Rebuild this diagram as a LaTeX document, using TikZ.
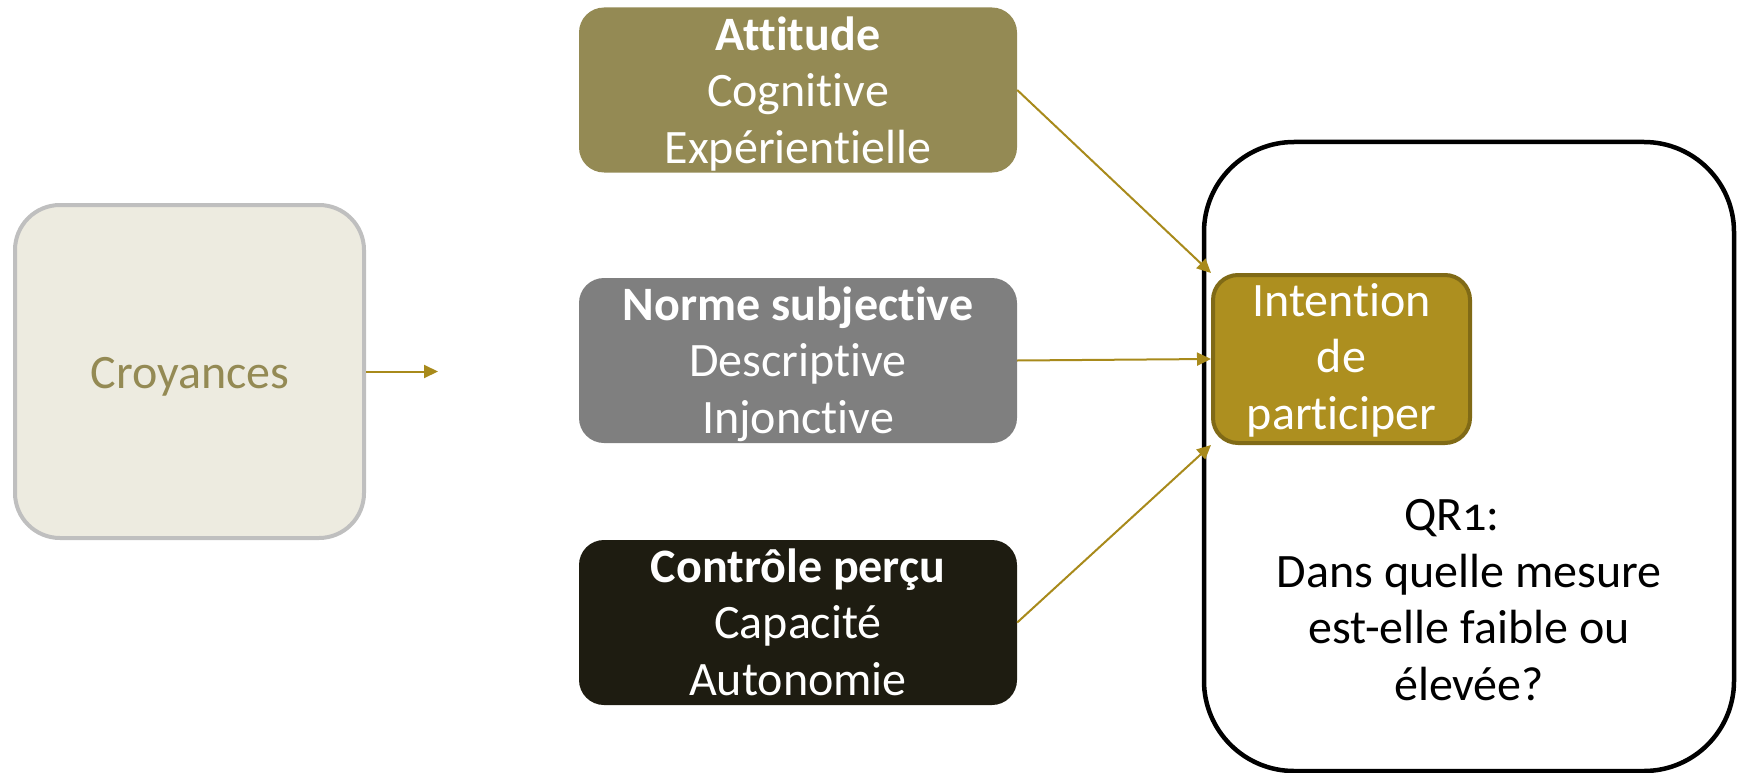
\documentclass[tikz,border=0pt]{standalone}
\usepackage{fontspec}
\setmainfont{Carlito}[Ligatures=NoCommon]
\usetikzlibrary{arrows.meta}
\definecolor{croyfill}{HTML}{EDEBE0}
\definecolor{croyline}{HTML}{BFBFBF}
\definecolor{olive}{HTML}{948A54}
\definecolor{normgray}{HTML}{7F7F7F}
\definecolor{ctrldark}{HTML}{1E1C11}
\definecolor{gold}{HTML}{AD8F1F}
\definecolor{golddark}{HTML}{806A16}
\definecolor{arrowgold}{HTML}{A88A1B}
\begin{document}
\begin{tikzpicture}[x=1pt,y=-1pt,
  fnt/.style={font=\fontsize{48}{56.5}\selectfont},
  colbox/.style={rectangle, rounded corners=25pt, draw=none, minimum width=438pt, minimum height=165pt, inner sep=0pt},
  boxtext/.style={fnt, text=white, align=center, inner sep=0pt, anchor=north},
  conn/.style={draw=arrowgold, line width=2pt, -{Triangle[length=14pt,width=13pt]}}
]
\useasboundingbox (0,0) rectangle (1740,773);
% Croyances
\node[rectangle, rounded corners=45pt, draw=croyline, line width=4pt, fill=croyfill,
      minimum width=349pt, minimum height=333pt, inner sep=0pt] (croy) at (189.5,371.5) {};
\node[fnt, text=olive, anchor=base, inner sep=0pt] (croyT) at (190,388) {Croyances};
\coordinate (croyEnd) at (438,371.5);
\draw[conn] (croy.east) -- (croyEnd);
% three boxes
\node[colbox, fill=olive] (att) at (798,90) {};
\node[boxtext] (attT) at ([yshift=-3pt]att.north) {\rule{0pt}{40pt}\textbf{Attitude}\\Cognitive\\Expérientielle};
\node[colbox, fill=normgray] (norm) at (798,360.5) {};
\node[boxtext] (normT) at ([yshift=-2pt]norm.north) {\rule{0pt}{40pt}\textbf{Norme subjective}\\Descriptive\\Injonctive};
\node[colbox, fill=ctrldark] (ctrl) at (798,622.5) {};
\node[boxtext] (ctrlT) at ([yshift=-2pt]ctrl.north) {\rule{0pt}{40pt}\textbf{Contrôle perçu}\\Capacité\\Autonomie};
% big box
\node[rectangle, rounded corners=90pt, draw=black, line width=4.5pt, fill=white,
      minimum width=530pt, minimum height=629pt, inner sep=0pt] (big) at (1469,456.5) {};
\node[fnt, text=black, align=center, inner sep=0pt, anchor=north] (qr) at ([yshift=-351pt]big.north)
  {\rule{0pt}{40pt}QR{\addfontfeatures{Numbers=OldStyle}1}:\hspace*{34pt}\\Dans quelle mesure\\est-elle faible ou\\élevée?};
% Intention
\node[rectangle, rounded corners=25pt, draw=golddark, line width=4pt, fill=gold,
      minimum width=257pt, minimum height=168pt, inner sep=0pt] (int) at (1341.5,359) {};
\node[boxtext] (intT) at ([yshift=-3pt]int.north) {\rule{0pt}{40pt}Intention\\de\\participer};
% connectors
\draw[conn] (att.east) -- (int.north west);
\draw[conn] (norm.east) -- (int.west);
\draw[conn] (ctrl.east) -- (int.south west);
\end{tikzpicture}
\end{document}
